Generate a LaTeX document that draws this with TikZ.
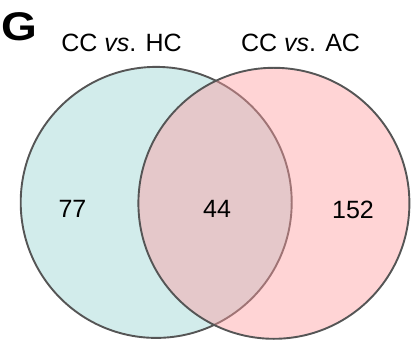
\documentclass[tikz,border=0pt]{standalone}
\usepackage{fontspec}
\setmainfont{Liberation Sans}
\definecolor{edgegray}{HTML}{555555}
\definecolor{tealfill}{HTML}{D2ECEB}
\definecolor{pinkfill}{HTML}{FF9CA0}
\begin{document}
\begin{tikzpicture}[x=1pt,y=-1pt,
  setcircle/.style={circle,inner sep=0pt,outer sep=0pt,minimum size=271pt,draw=edgegray,line width=1.9pt},
  lab/.style={anchor=base,inner sep=0pt,font=\fontsize{25}{30}\selectfont},
  num/.style={anchor=base,inner sep=0pt,font=\fontsize{25}{30}\selectfont},
  panel/.style={anchor=base west,inner sep=0pt}]
\useasboundingbox (0,0) rectangle (414,352);
\node[setcircle,fill=tealfill] (HC) at (156.2,202.4) {};
\node[setcircle,fill=pinkfill,fill opacity=0.44,text opacity=1] (AC) at (273.9,203.3) {};
\node[panel] (G) at (1,40.5) {\scalebox{4.6}[4.0]{\bfseries G}};
\node[lab] (tHC) at (121.5,52) {CC \textit{vs}. HC};
\node[lab] (tAC) at (300.5,52) {CC \textit{vs}. AC};
\node[num] (n77) at (72.5,218) {77};
\node[num] (n44) at (217,217.5) {44};
\node[num] (n152) at (353,218.5) {152};
\end{tikzpicture}
\end{document}
